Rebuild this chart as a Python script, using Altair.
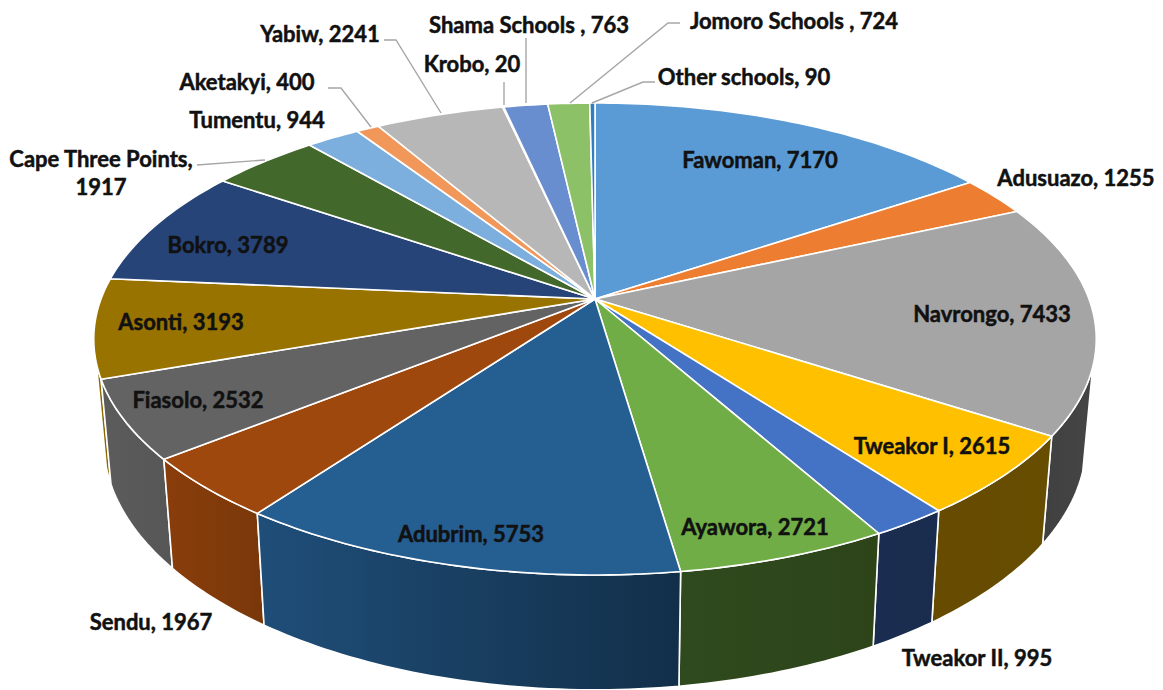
import math
import altair as alt
import pandas as pd

# ---- data ----
names = ["Fawoman", "Adusuazo", "Navrongo", "Tweakor I", "Tweakor II", "Ayawora", "Adubrim",
         "Sendu", "Fiasolo", "Asonti", "Bokro", "Cape Three Points", "Tumentu", "Aketakyi",
         "Yabiw", "Krobo", "Shama Schools", "Jomoro Schools", "Other schools"]
values = [7170, 1255, 7433, 2615, 995, 2721, 5753, 1967, 2532, 3193, 3789, 1917, 944, 400,
          2241, 20, 763, 724, 90]
top_colors = ["#5B9BD5", "#ED7D31", "#A5A5A5", "#FFC000", "#4472C4", "#70AD47", "#255E91",
              "#9E480E", "#636363", "#997300", "#264478", "#43682B", "#7CAFDD", "#F1975A",
              "#B7B7B7", "#FFCD33", "#698ED0", "#8CC168", "#327DC2"]
# wall shading (left, right on screen) for the slices whose side is visible
wall_shades = {
    "Navrongo": ("#404040", "#454545"),
    "Tweakor I": ("#664B00", "#664D00"),
    "Tweakor II": ("#1A2D50", "#1A2C4E"),
    "Ayawora": ("#2F4A1E", "#2D4419"),
    "Adubrim": ("#1F4E79", "#122F49"),
    "Sendu": ("#8A3D0B", "#79380A"),
    "Fiasolo": ("#5C5C5C", "#565656"),
    "Asonti": ("#8A6800", "#8A6800"),
}

# ---- label layout ----
label_text = ["Fawoman, 7170", "Adusuazo, 1255", "Navrongo, 7433", "Tweakor I, 2615", "Tweakor II, 995",
              "Ayawora, 2721", "Adubrim, 5753", "Sendu, 1967", "Fiasolo, 2532", "Asonti, 3193",
              "Bokro, 3789", "Cape Three Points,", "1917", "Tumentu, 944", "Aketakyi, 400",
              "Yabiw, 2241", "Krobo, 20", "Shama Schools , 763", "Jomoro Schools , 724", "Other schools, 90"]
label_x = [760, 1076, 992, 932, 977, 755, 471, 151, 198, 181, 228, 101, 101, 257, 247, 320, 472, 529, 794, 744]
label_y = [161, 179, 315, 447, 659, 528, 535, 623, 401, 323, 246, 160, 188, 121, 83, 35, 65, 26, 21.5, 78]
leaders = {
    "Yabiw": [(384, 40), (396, 40), (441, 113)],
    "Aketakyi": [(328, 88), (341, 88), (371, 127)],
    "Cape": [(197, 165), (265, 160)],
    "Krobo": [(504, 82), (504, 105)],
    "Shama": [(526, 38), (526, 103)],
    "Jomoro": [(680, 23), (668, 23), (570, 103)],
    "Other": [(655, 82), (643, 82), (592, 103)],
}

# ---- projection of the tilted disc ----
CX, CY, A, B, K = 595.0, 299.0, 494.0, 229.2, 0.1695
WARP = 0.55
total = sum(values)
VIS_START, VIS_END = 106.0, 255.0


def top_pt(deg):
    r = math.radians(deg)
    t = math.radians(deg + WARP * math.sin(r) * (1 + math.cos(r)))
    w = 1 + K * math.cos(t)
    return CX + A * math.sin(t) / w, CY - B * math.cos(t) / w


def bot_pt(deg):
    x, y = top_pt(deg)
    return CX + (x - CX) * 0.98, 399 + (y - 298) * 1.05


def arc(f, a, b):
    n = max(2, int(abs(b - a) / 1.0) + 1)
    return [f(a + (b - a) * i / n) for i in range(n + 1)]


bounds = [0.0]
for v in values:
    bounds.append(bounds[-1] + v / total * 360)

X = alt.X("x:Q", scale=alt.Scale(domain=[8, 1155], nice=False, zero=False), axis=None)
Y = alt.Y("y:Q", scale=alt.Scale(domain=[690, 8], nice=False, zero=False), axis=None)

layers = []

# walls, back to front
order = [n for n in names if n in wall_shades]
order.sort(key=lambda n: abs((bounds[names.index(n)] + bounds[names.index(n) + 1]) / 2 - 180), reverse=True)
for n in order:
    i = names.index(n)
    a, b = max(bounds[i], VIS_START), min(bounds[i + 1], VIS_END)
    pts = arc(top_pt, a, b) + arc(bot_pt, b, a)
    pts.append(pts[0])
    d = pd.DataFrame(pts, columns=["x", "y"])
    d["i"] = range(len(d))
    right, left = wall_shades[n][1], wall_shades[n][0]
    grad = alt.LinearGradient(gradient="linear", x1=0, x2=1, y1=0, y2=0,
                              stops=[alt.GradientStop(color=left, offset=0),
                                     alt.GradientStop(color=right, offset=1)])
    layers.append(alt.Chart(d).mark_line(fill=grad, stroke="#FFFFFF", strokeWidth=1.6, interpolate="linear",
                                         strokeJoin="round")
                  .encode(x=X, y=Y, order=alt.Order("i:Q")))

# top slices
rows = []
for i, n in enumerate(names):
    pts = [(CX, CY)] + arc(top_pt, bounds[i], bounds[i + 1]) + [(CX, CY)]
    for j, (x, y) in enumerate(pts):
        rows.append({"slice": n, "x": x, "y": y, "i": j})
top = pd.DataFrame(rows)
layers.append(alt.Chart(top).mark_line(stroke="#FFFFFF", strokeWidth=1.6, interpolate="linear", strokeJoin="round")
              .encode(x=X, y=Y, order=alt.Order("i:Q"),
                      fill=alt.Fill("slice:N", scale=alt.Scale(domain=names, range=top_colors), legend=None)))

# leader lines
rows = []
for n, pts in leaders.items():
    for j, (x, y) in enumerate(pts):
        rows.append({"name": n, "x": x, "y": y, "i": j})
layers.append(alt.Chart(pd.DataFrame(rows)).mark_line(color="#A6A6A6", strokeWidth=1.4, interpolate="linear")
              .encode(x=X, y=Y, order=alt.Order("i:Q"), detail="name:N"))

# labels
labels = pd.DataFrame({"t": label_text, "x": label_x, "y": label_y})
layers.append(alt.Chart(labels).mark_text(font="Lato", fontWeight="bold", fontSize=22, color="#111111",
                                          stroke="#111111", strokeWidth=0.5,
                                          align="center", baseline="middle")
              .encode(x=X, y=Y, text="t:N"))

chart = alt.layer(*layers).properties(
    width=1147, height=682, padding=0, background="#FFFFFF",
    autosize=alt.AutoSizeParams(type="none"),
).configure_view(stroke=None)

chart.save("out.html", embed_options={"renderer": "svg", "actions": False})
